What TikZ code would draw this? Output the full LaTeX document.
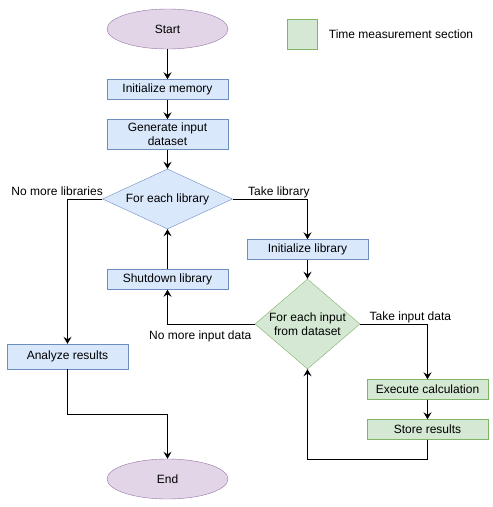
\documentclass[tikz,border=0pt]{standalone}
\usepackage{fontspec}
\setmainfont{Liberation Sans}
\usetikzlibrary{arrows.meta,shapes.geometric,positioning}
\definecolor{blfill}{HTML}{DAE8FC}
\definecolor{bldraw}{HTML}{6C8EBF}
\definecolor{grfill}{HTML}{D5E8D4}
\definecolor{grdraw}{HTML}{82B366}
\definecolor{pufill}{HTML}{E1D5E7}
\definecolor{pudraw}{HTML}{9673A6}
\tikzstyle{every node}=[font=\fontsize{12}{14}\selectfont]
\tikzstyle{terminal}=[ellipse,draw=pudraw,fill=pufill,minimum width=121pt,minimum height=40pt]
\tikzstyle{process}=[rectangle,draw=bldraw,fill=blfill,minimum width=121pt,minimum height=20pt,inner sep=1pt,align=center]
\tikzstyle{timed}=[process,draw=grdraw,fill=grfill]
\tikzstyle{decision}=[diamond,draw=bldraw,fill=blfill,inner sep=0pt]
\tikzstyle{edgelabel}=[inner sep=1pt,text height=9pt,text depth=2.5pt]
\tikzstyle{flow}=[draw,->,>={Stealth[length=7pt,width=8pt,inset=2.5pt]},line width=1pt]

\begin{document}
\begin{tikzpicture}[x=1pt,y=-1pt]
  \useasboundingbox (0,0) rectangle (493,507);

  \node[terminal] (start) at (167.5,29) {Start};
  \node[process] (initmem) at (167.5,89.5) {Initialize memory};
  \node[process,minimum height=30pt] (gendata) at (167.5,134.5) {Generate input\\dataset};
  \node[decision,minimum width=130pt,minimum height=60pt,label=center:For each library] (forlib) at (167.5,199) {};
  \node[process] (initlib) at (307.5,249.5) {Initialize library};
  \node[process] (shutlib) at (167.5,279.5) {Shutdown library};
  \node[decision,draw=grdraw,fill=grfill,minimum width=105pt,minimum height=90pt,
        label={[align=center]center:For each input\\from dataset}] (forinput) at (307.5,324) {};
  \node[timed] (exec) at (427.5,389.5) {Execute calculation};
  \node[timed] (store) at (427.5,429.5) {Store results};
  \node[process,minimum height=25pt] (analyze) at (67.5,356.5) {Analyze results};
  \node[terminal] (stop) at (167.5,479) {End};

  % legend
  \node[rectangle,draw=grdraw,fill=grfill,minimum size=30pt] (key) at (302.5,34) {};
  \node[inner sep=0pt] (keytext) [right=11pt of key] {Time measurement section};

  \coordinate (loopdown) at (427.5,459);
  \coordinate (joinend) at (67.5,414);

  \path[flow] (start) edge (initmem)
    (initmem) edge (gendata)
    (gendata) edge (forlib)
    (initlib) edge (forinput)
    (exec) edge (store)
    (shutlib) edge (forlib);

  \draw[flow] (forlib.east) -| node[edgelabel,pos=0,anchor=south west,xshift=14pt] {Take library} (initlib);
  \draw[flow] (forinput.east) -| node[edgelabel,pos=0,anchor=south west,xshift=8pt] {Take input data} (exec);
  \draw[flow] (store) -- (loopdown) -| (forinput.south);
  \draw[flow] (forinput.west) -| node[edgelabel,pos=0,anchor=north east,xshift=-2pt,yshift=-5pt] {No more input data} (shutlib);
  \draw[flow] (forlib.west) -| node[edgelabel,pos=0,anchor=south east,xshift=2pt] {No more libraries} (analyze);
  \draw[flow] (analyze) -- (joinend) -| (stop);
\end{tikzpicture}
\end{document}
